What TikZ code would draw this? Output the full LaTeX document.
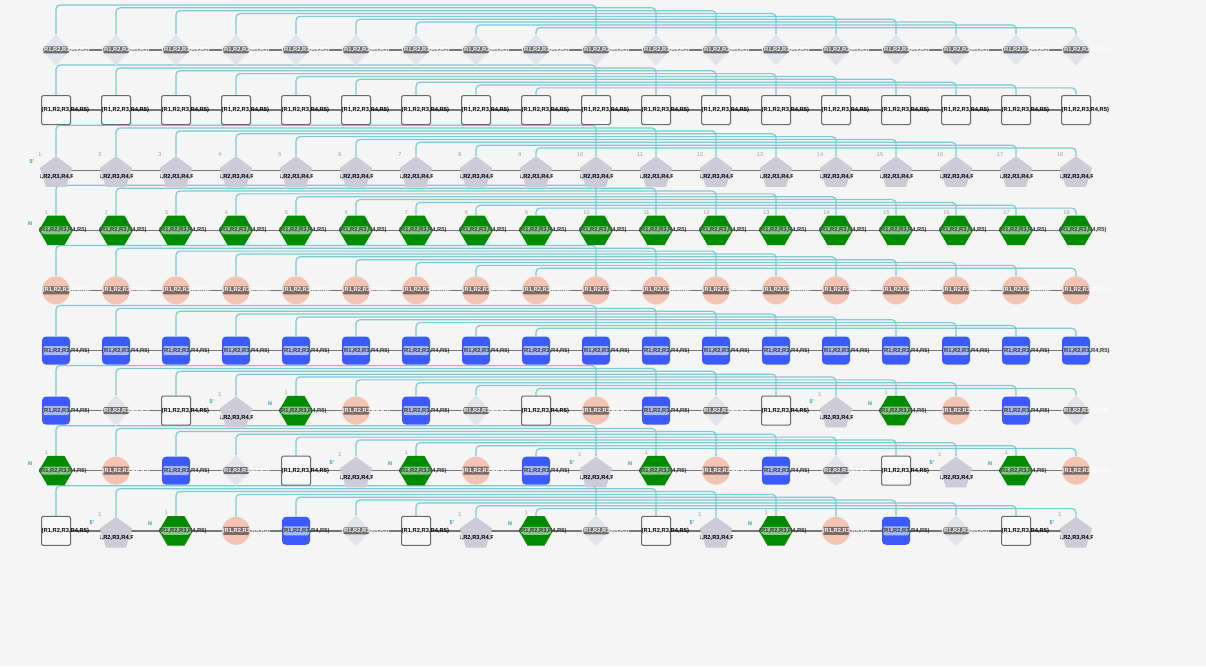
\documentclass[tikz,border=0pt]{standalone}
\usepackage{fontspec}
\setmainfont{Liberation Sans}
\usetikzlibrary{shapes.geometric}

\definecolor{bgcol}{HTML}{F5F5F5}
\definecolor{dfill}{HTML}{E1E4EB}
\definecolor{dpill}{HTML}{6E6E6E}
\definecolor{sfill}{HTML}{F8F8F8}
\definecolor{sline}{HTML}{6A6A6A}
\definecolor{pfill}{HTML}{CCCBD7}
\definecolor{hfill}{HTML}{008A00}
\definecolor{hpill}{HTML}{86C586}
\definecolor{cfill}{HTML}{F3C4B4}
\definecolor{cpill}{HTML}{7B6964}
\definecolor{bfill}{HTML}{3B5BFD}
\definecolor{bpill}{HTML}{A6B6FF}
\definecolor{wire}{HTML}{7DCAD3}
\definecolor{spine}{HTML}{777777}
\definecolor{numgray}{HTML}{9B9B9B}
\definecolor{tagcyan}{HTML}{2C9DB2}
\definecolor{darktext}{HTML}{333333}

\pgfdeclarelayer{back}
\pgfdeclarelayer{wires}
\pgfsetlayers{back,wires,main}

\newcommand{\rlab}{(R1,R2,R3,R4,R5)}
\newcommand{\labfont}{\fontsize{5.8}{6}\selectfont\bfseries}

\tikzset{
  mono D/.style = {diamond, fill=dfill, minimum width=29pt, minimum height=31pt, inner sep=0pt},
  mono S/.style = {rectangle, draw=sline, fill=sfill, line width=1pt, rounded corners=1.5pt,
                   minimum size=29pt, inner sep=0pt},
  mono P/.style = {regular polygon, regular polygon sides=5, fill=pfill, minimum size=34pt,
                   inner sep=0pt, yshift=-3pt},
  mono H/.style = {regular polygon, regular polygon sides=6, fill=hfill, minimum size=34pt,
                   inner sep=0pt},
  mono C/.style = {circle, fill=cfill, minimum size=28pt, inner sep=0pt},
  mono B/.style = {rectangle, fill=bfill, rounded corners=4pt, minimum size=28pt, inner sep=0pt},
  pillbox/.style = {inner sep=0pt, node contents={}},
  pill D/.style = {pillbox, fill=dpill, rounded corners=2pt, minimum width=26pt, minimum height=7pt},
  pill S/.style = {pillbox},
  pill P/.style = {pillbox},
  pill H/.style = {pillbox, fill=hpill, rounded corners=4pt, minimum width=31pt, minimum height=8pt},
  pill C/.style = {pillbox, fill=cpill, rounded corners=1pt, minimum width=26pt, minimum height=8pt},
  pill B/.style = {pillbox, fill=bpill, rounded corners=1.5pt, minimum width=26pt, minimum height=9pt},
  labtext/.style = {font=\labfont, inner sep=0pt, anchor=west, node contents=\rlab},
  lab D/.style = {labtext, text=white, xshift=-14pt},
  lab S/.style = {labtext, text=black, xshift=-14.5pt},
  lab H/.style = {labtext, text=darktext, xshift=-17pt},
  lab C/.style = {labtext, text=white, xshift=-13.5pt},
  lab B/.style = {labtext, text=darktext, xshift=-14pt},
  lab P/.style = {inner sep=0pt, minimum width=32pt, minimum height=8pt, yshift=-4pt,
                  node contents={},
                  path picture={\node[font=\labfont, inner sep=0pt, text=black]
                                at (path picture bounding box.center) {\rlab};}},
  num/.style  = {font=\fontsize{5.5}{6}\selectfont, text=numgray, inner sep=0pt},
  tag/.style  = {font=\fontsize{5.5}{6}\selectfont\bfseries, text=tagcyan, inner sep=0pt},
  link/.style = {draw=wire, line width=1.2pt, rounded corners=4pt},
  spine/.style = {draw=spine, line width=1.4pt}
}

% one monomer: shape, label pill, label text
\newcommand{\monomer}[3]{%
  \node[mono #3] (r#1-#2) at ({56+60*(#2-1)},{50+60.1*(#1-1)}) {};
  \node at (r#1-#2.center) [pill #3];
  \node at (r#1-#2.center) [lab #3];
}

\begin{document}
\begin{tikzpicture}[x=1pt, y=-1pt]

\useasboundingbox (0,0) rectangle (1206,666);
\begin{pgfonlayer}{back}
  \fill[bgcol] (0,0) rectangle (1206,666);
\end{pgfonlayer}

% base line of every row
\foreach \rowi in {1,...,9}
  \coordinate (h\rowi) at (596,{50+60.1*(\rowi-1)});

% the uniform rows
\foreach \rowi/\kind in {1/D,2/S,3/P,4/H,5/C,6/B}
  \foreach \coli in {1,...,18}
    {\monomer{\rowi}{\coli}{\kind}}

% the mixed rows
\foreach \kind [count=\coli] in {B,D,S,P,H,C,B,D,S,C,B,D,S,P,H,C,B,D}
  {\monomer{7}{\coli}{\kind}}
\foreach \kind [count=\coli] in {H,C,B,D,S,P,H,C,B,P,H,C,B,D,S,P,H,C}
  {\monomer{8}{\coli}{\kind}}
\foreach \kind [count=\coli] in {S,P,H,C,B,D,S,P,H,D,S,P,H,C,B,D,S,P}
  {\monomer{9}{\coli}{\kind}}

% numbers and chain ends
\foreach \coli in {1,...,18} {
  \node[num] at ([shift={(-16,-19)}]r3-\coli.center) {\coli};
  \node[num] at ([shift={(-9.5,-18)}]r4-\coli.center) {\coli};
}
\node[tag] at ([shift={(-24,-11.5)}]r3-1.center) {5'};
\node[tag] at ([shift={(-26,-7)}]r4-1.center) {N};

\foreach \p in {r7-4,r7-14,r8-6,r8-10,r8-16,r9-2,r9-8,r9-12,r9-18} {
  \node[num] at ([shift={(-16,-19)}]\p.center) {1};
  \node[tag] at ([shift={(-24,-11.5)}]\p.center) {5'};
}
\foreach \q in {r7-5,r7-15,r8-1,r8-7,r8-11,r8-17,r9-3,r9-9,r9-13} {
  \node[num] at ([shift={(-9.5,-18)}]\q.center) {1};
  \node[tag] at ([shift={(-26,-7)}]\q.center) {N};
}

% backbones, and the links from column j to column j+9
\begin{pgfonlayer}{wires}
\foreach \rowi in {1,...,9} {
  \draw[spine] (r\rowi-1.center |- h\rowi) -- (r\rowi-18.center |- h\rowi);
  \foreach \coli [evaluate=\coli as \mate using int(\coli+9)] in {1,...,9}
    \draw[link] (r\rowi-\coli.north)
      |- ([yshift={45-2.85*(\coli-1)}]r\rowi-\mate.center |- h\rowi)
      -- (r\rowi-\mate.north);
}
\end{pgfonlayer}

\end{tikzpicture}
\end{document}
